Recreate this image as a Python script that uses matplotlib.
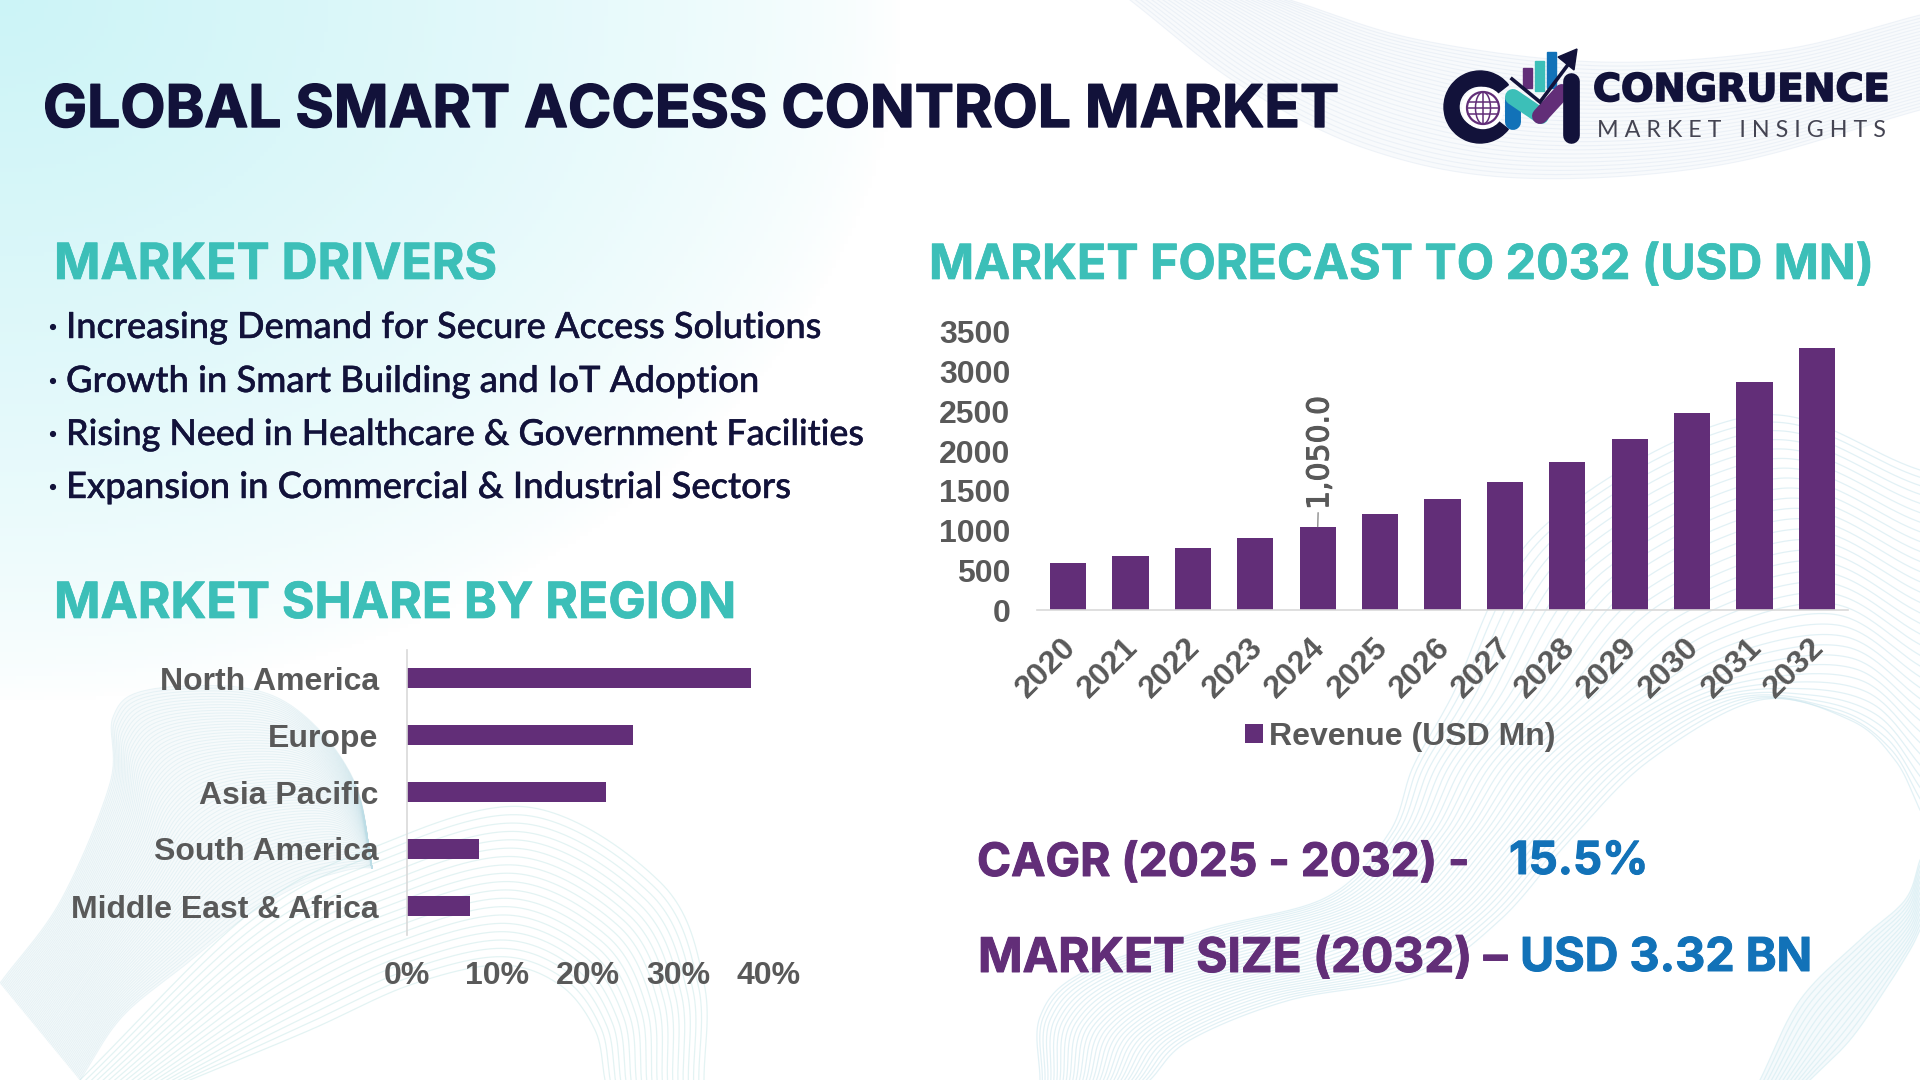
import numpy as np
import matplotlib
matplotlib.use("Agg")
import matplotlib.pyplot as plt
import matplotlib.patheffects as pe
from matplotlib.patches import Wedge, Circle, Rectangle, Polygon, Ellipse
from matplotlib.transforms import ScaledTranslation, offset_copy

years = ["2020", "2021", "2022", "2023", "2024", "2025", "2026", "2027", "2028", "2029", "2030", "2031", "2032"]
revenue = [588, 680, 781, 906, 1050, 1209, 1398, 1612, 1866, 2158, 2482, 2868, 3300]
revenue_ticks = [0, 500, 1000, 1500, 2000, 2500, 3000, 3500]
regions = ["North America", "Europe", "Asia Pacific", "South America", "Middle East & Africa"]
shares = [38, 25, 22, 8, 7]
share_ticks = [0, 10, 20, 30, 40]
drivers = [
    "Increasing Demand for Secure Access Solutions",
    "Growth in Smart Building and IoT Adoption",
    "Rising Need in Healthcare & Government Facilities",
    "Expansion in Commercial & Industrial Sectors",
]

W, H = 1920, 1080
NAVY = "#12123a"
TEAL = "#3cbfb8"
PURPLE = "#622e78"
BLUE = "#1272b8"
GREY = "#595959"
HEAD_FONT = "Inter"
BODY_FONT = "Lato"
CHART_FONT = "Liberation Sans"

fig = plt.figure(figsize=(19.2, 10.8), dpi=100, facecolor="white")
bg = fig.add_axes([0, 0, 1, 1], zorder=0)
bg.axis("off")

# cyan corner fade
yy, xx = np.mgrid[0:H:4, 0:W:4]
fade = np.clip(1 - np.sqrt((xx / 900.0) ** 2 + (yy / 700.0) ** 2), 0, 1) ** 0.7
img = np.ones(xx.shape + (4,))
img[..., 0] = 0.80
img[..., 1] = 0.96
img[..., 2] = 0.97
img[..., 3] = fade
bg.imshow(img, extent=[0, W, H, 0], aspect="auto", zorder=0)
bg.set_xlim(0, W)
bg.set_ylim(H, 0)


def smooth(pts, n=140):
    # catmull-rom through the control points
    p = np.array(pts, dtype=float)
    p = np.vstack([2 * p[0] - p[1], p, 2 * p[-1] - p[-2]])
    out = []
    for i in range(1, len(p) - 2):
        t = np.linspace(0, 1, n)[:, None]
        out.append(0.5 * (2 * p[i] + (p[i + 1] - p[i - 1]) * t
                          + (2 * p[i - 1] - 5 * p[i] + 4 * p[i + 1] - p[i + 2]) * t ** 2
                          + (3 * p[i] - p[i - 1] - 3 * p[i + 1] + p[i + 2]) * t ** 3))
    return np.vstack(out)


def mesh(a, b, count, color, lw=0.8, alpha=0.5, power=1.0, haze=0.0):
    ca = smooth(a)
    cb = smooth(b)
    m = min(len(ca), len(cb))
    ca = ca[np.linspace(0, len(ca) - 1, m).astype(int)]
    cb = cb[np.linspace(0, len(cb) - 1, m).astype(int)]
    if haze > 0:
        bg.add_patch(Polygon(np.vstack([ca, cb[::-1]]), closed=True, fc=color, ec="none", alpha=haze, zorder=1))
    for f in np.linspace(0, 1, count) ** power:
        c = ca * (1 - f) + cb * f
        bg.plot(c[:, 0], c[:, 1], color=color, lw=lw, alpha=alpha, zorder=1)


# top right band
mesh([(1130, 0), (1240, 85), (1370, 150), (1520, 178), (1720, 165), (1920, 110)],
     [(1290, 0), (1420, 40), (1600, 62), (1780, 50), (1920, 15)], 30, "#d5e0ee", 0.8, 0.35, haze=0.15)
# bottom left arch
mesh([(80, 1080), (245, 917), (367, 850), (527, 807), (661, 883), (704, 983), (704, 1080)],
     [(190, 1080), (310, 1030), (410, 985), (500, 965), (560, 985), (595, 1030), (605, 1080)], 20, "#cdeaea", 0.9, 0.55)
# bottom left ribbon
mesh([(0, 983), (61, 900), (110, 783), (113, 717), (147, 690), (245, 688), (306, 717), (355, 783), (372, 868)],
     [(80, 1080), (122, 1017), (185, 965), (245, 917), (300, 885), (340, 872), (360, 868), (370, 868), (372, 868)],
     70, "#bcdde6", 0.7, 0.28, haze=0.12)
# bottom right sweep
mesh([(1040, 1080), (1040, 1017), (1082, 973), (1205, 930), (1327, 897), (1389, 833), (1413, 767), (1450, 700),
      (1540, 530), (1751, 416), (1920, 470)],
     [(1150, 1080), (1190, 1040), (1290, 1000), (1420, 975), (1500, 920), (1570, 840), (1650, 760), (1760, 700),
      (1850, 720), (1895, 760), (1920, 810)], 34, "#cbe6ee", 0.9, 0.55, power=1.1)
mesh([(1760, 1080), (1800, 1000), (1860, 940), (1905, 900), (1920, 860)],
     [(1810, 1080), (1850, 1040), (1885, 990), (1910, 950), (1920, 930)], 14, "#cfeaf0", 0.9, 0.55, haze=0.2)

ov = fig.add_axes([0, 0, 1, 1], zorder=3)
ov.set_xlim(0, W)
ov.set_ylim(H, 0)
ov.axis("off")
ov.patch.set_alpha(0)
renderer = fig.canvas.get_renderer()


def fit_text(x, y, s, right, color, family=HEAD_FONT, weight="bold", size=30, thick=0.0):
    # scale the font so the string spans x..right in pixels
    t = ov.text(x, y, s, color=color, family=family, fontweight=weight, fontsize=size, ha="left", va="baseline")
    w = t.get_window_extent(renderer).width
    t.set_fontsize(size * (right - x) / w)
    if thick > 0:
        t.set_path_effects([pe.withStroke(linewidth=thick, foreground=color)])
    return t


fit_text(43, 127, "GLOBAL SMART ACCESS CONTROL MARKET", 1338, NAVY, thick=1.0)
fit_text(54, 279, "MARKET DRIVERS", 497, TEAL, thick=0.5)
fit_text(929, 279, "MARKET FORECAST TO 2032 (USD MN)", 1873, TEAL, thick=0.5)
fit_text(54, 618, "MARKET SHARE BY REGION", 736, TEAL, thick=0.5)

bullet_y = [338, 392, 445, 498]
bullet_right = [820, 759, 863, 790]
for txt, by, br in zip(drivers, bullet_y, bullet_right):
    fit_text(66, by, txt, br, NAVY, family=BODY_FONT, weight="medium", thick=0.3)
    ov.add_patch(Circle((53, by - 11), 2.4, color=NAVY))

fit_text(977, 876, "CAGR (2025 - 2032) -", 1469, PURPLE, thick=0.7)
fit_text(1509, 874, "15.5%", 1648, BLUE, thick=0.7)
fit_text(978, 972, "MARKET SIZE (2032) –", 1507, PURPLE, thick=0.7)
fit_text(1520, 971, "USD 3.32 BN", 1812, BLUE, thick=0.7)

# logo
ov.add_patch(Wedge((1480, 107), 36, 38, 322, width=15, color=NAVY))
ov.add_patch(Circle((1483, 108), 20.5, color="white"))
ov.add_patch(Circle((1483, 108), 16, fill=False, ec=PURPLE, lw=1.6))
for dy in (-6, 0, 6):
    half = np.sqrt(16 ** 2 - dy ** 2)
    ov.plot([1483 - half, 1483 + half], [108 + dy, 108 + dy], color=PURPLE, lw=1.1)
ov.plot([1483, 1483], [92, 124], color=PURPLE, lw=1.1)
ov.add_patch(Ellipse((1483, 108), 15, 32, fill=False, ec=PURPLE, lw=1.1))
ov.add_patch(Rectangle((1523, 68), 9, 20, color=PURPLE))
ov.add_patch(Rectangle((1535, 61), 9, 30, color=TEAL))
ov.add_patch(Rectangle((1547, 52), 9, 36, color=BLUE))
ov.plot([1513, 1513], [100, 122], color=BLUE, lw=11.5, solid_capstyle="round")
ov.plot([1513, 1541], [97, 116], color=TEAL, lw=11.5, solid_capstyle="round")
ov.plot([1540, 1562], [116, 92], color=PURPLE, lw=11.5, solid_capstyle="round")
ov.plot([1571, 1571], [81, 135], color=NAVY, lw=12, solid_capstyle="round")
ov.plot([1512, 1540, 1570], [79, 102, 62], color=NAVY, lw=2.6, solid_joinstyle="miter")
ov.add_patch(Polygon([(1577, 49), (1558, 57), (1574, 70)], color=NAVY))
fit_text(1593, 101, "CONGRUENCE", 1890, NAVY, family="DejaVu Sans", thick=1.2)
fit_text(1597, 137, "M A R K E T   I N S I G H T S", 1885, "#444452", family=BODY_FONT, weight="normal")

# forecast chart
ax = fig.add_axes([1037 / W, 1 - 610 / H, (1848 - 1037) / W, (610 - 332) / H], zorder=2)
ax.patch.set_alpha(0)
xpos = np.arange(len(years))
ax.bar(xpos, revenue, width=0.58, color=PURPLE, label="Revenue (USD Mn)")
ax.set_xlim(-0.5, 12.5)
ax.set_ylim(0, 3500)
ax.set_yticks(revenue_ticks)
ax.set_xticks(xpos)
ax.set_xticklabels(years, rotation=45, ha="right", va="center", rotation_mode="anchor")
for s in ["top", "right", "left"]:
    ax.spines[s].set_visible(False)
ax.spines["bottom"].set_color("#d9d9d9")
ax.spines["bottom"].set_linewidth(1.2)
ax.tick_params(axis="y", length=0, pad=19)
ax.tick_params(axis="x", length=0, pad=24)
for lab in ax.get_xticklabels() + ax.get_yticklabels():
    lab.set_family(CHART_FONT)
    lab.set_fontweight("bold")
    lab.set_fontsize(23)
    lab.set_color(GREY)
shift = ScaledTranslation(3 / 100, 0, fig.dpi_scale_trans)
for lab in ax.get_xticklabels():
    lab.set_transform(lab.get_transform() + shift)
val = ax.annotate("1,050.0", xy=(xpos[4], revenue[4]), xytext=(xpos[4], revenue[4]),
                  textcoords=offset_copy(ax.transData, fig=fig, x=1.5, y=12, units="points"),
                  rotation=90, ha="center", va="bottom", color=GREY, family="DejaVu Sans", fontsize=21.5,
                  arrowprops=dict(arrowstyle="-", color="#8c8c8c", lw=1, shrinkA=0, shrinkB=0))
val.set_path_effects([pe.withStroke(linewidth=0.8, foreground=GREY)])
leg = ax.legend(loc="upper left", bbox_to_anchor=(1245 / W, 1 - 722 / H), bbox_transform=fig.transFigure,
                frameon=False, handlelength=0.55, handleheight=0.55, handletextpad=0.2, borderpad=0, borderaxespad=0,
                prop={"family": CHART_FONT, "weight": "bold", "size": 23})
for t in leg.get_texts():
    t.set_color(GREY)

# region chart
ax2 = fig.add_axes([406.5 / W, 1 - 934.5 / H, (769 - 406.5) / W, 285 / H], zorder=2)
ax2.patch.set_alpha(0)
ypos = np.arange(len(regions))
ax2.barh(ypos, shares, height=0.35, color=PURPLE)
ax2.set_xlim(0, 40)
ax2.set_ylim(4.5, -0.5)
ax2.set_yticks(ypos)
ax2.set_yticklabels(regions)
ax2.set_xticks(share_ticks)
ax2.set_xticklabels([f"{v}%" for v in share_ticks])
for s in ["top", "right", "bottom"]:
    ax2.spines[s].set_visible(False)
ax2.spines["left"].set_color("#d9d9d9")
ax2.spines["left"].set_linewidth(1.2)
ax2.tick_params(axis="y", length=0, pad=20)
ax2.tick_params(axis="x", length=0, pad=19)
for lab in ax2.get_xticklabels() + ax2.get_yticklabels():
    lab.set_family(CHART_FONT)
    lab.set_fontweight("bold")
    lab.set_fontsize(23)
    lab.set_color(GREY)

fig.savefig("out.png", dpi=100)
